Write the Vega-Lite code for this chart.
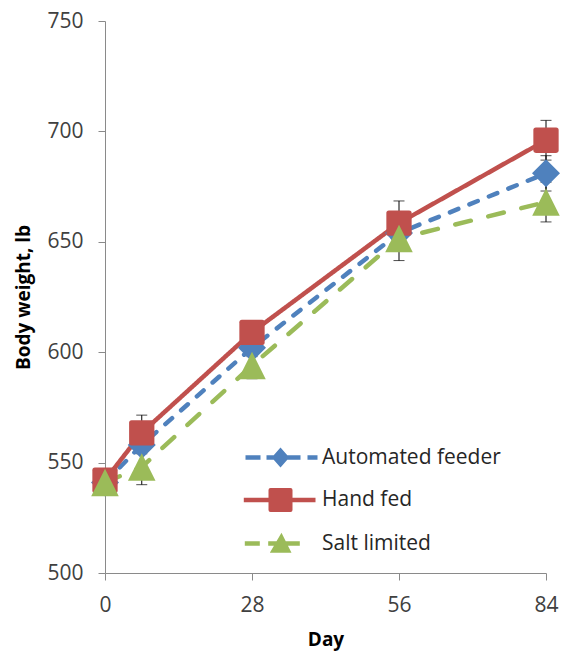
{
  "$schema": "https://vega.github.io/schema/vega-lite/v6.json",
  "autosize": {"type": "none"},
  "padding": {"left": 105, "top": 21, "right": 17, "bottom": 81},
  "width": 441,
  "height": 552,
  "background": "white",
  "config": {
    "view": {"stroke": null},
    "axis": {
      "grid": false,
      "labelFont": "Open Sans",
      "labelFontSize": 21,
      "labelColor": "#404040",
      "domainColor": "#8a8a8a",
      "tickColor": "#8a8a8a",
      "tickSize": 7,
      "labelFlush": false,
      "labelOverlap": false,
      "titleFont": "Open Sans",
      "titleFontWeight": "bold",
      "titleColor": "#000000"
    },
    "legend": {
      "labelFont": "Open Sans",
      "labelFontSize": 21,
      "labelColor": "#262626",
      "labelLimit": 400,
      "padding": 0
    }
  },
  "data": {
    "values": [
      {"series": "Automated feeder", "day": 0, "bw": 541, "lo": 539, "hi": 543},
      {"series": "Automated feeder", "day": 7, "bw": 558, "lo": 554, "hi": 562},
      {"series": "Automated feeder", "day": 28, "bw": 602, "lo": 598, "hi": 606},
      {"series": "Automated feeder", "day": 56, "bw": 654, "lo": 646, "hi": 662},
      {"series": "Automated feeder", "day": 84, "bw": 681, "lo": 673, "hi": 689},
      {"series": "Hand fed", "day": 0, "bw": 542, "lo": 540, "hi": 544},
      {"series": "Hand fed", "day": 7, "bw": 563.5, "lo": 555.5, "hi": 571.5},
      {"series": "Hand fed", "day": 28, "bw": 609, "lo": 604, "hi": 614},
      {"series": "Hand fed", "day": 56, "bw": 658.5, "lo": 648.5, "hi": 668.5},
      {"series": "Hand fed", "day": 84, "bw": 696, "lo": 687, "hi": 705},
      {"series": "Salt limited", "day": 0, "bw": 541, "lo": 539, "hi": 543},
      {"series": "Salt limited", "day": 7, "bw": 548, "lo": 540, "hi": 556},
      {"series": "Salt limited", "day": 28, "bw": 594, "lo": 588, "hi": 600},
      {"series": "Salt limited", "day": 56, "bw": 651.5, "lo": 641.5, "hi": 661.5},
      {"series": "Salt limited", "day": 84, "bw": 668, "lo": 659, "hi": 677}
    ]
  },
  "encoding": {
    "x": {
      "field": "day", "type": "quantitative",
      "scale": {"domain": [0, 84], "nice": false, "zero": false},
      "axis": {
        "values": [0, 28, 56, 84],
        "labelPadding": 14,
        "title": "Day",
        "titleFontSize": 19,
        "titleX": 220.5,
        "titleY": 72,
        "titleBaseline": "alphabetic",
        "titleAlign": "center"
      }
    },
    "y": {
      "field": "bw", "type": "quantitative",
      "scale": {"domain": [500, 750], "nice": false, "zero": false},
      "axis": {
        "values": [500, 550, 600, 650, 700, 750],
        "labelPadding": 15,
        "title": "Body weight, lb",
        "titleFontSize": 19,
        "titleAngle": 270,
        "titleX": -76,
        "titleY": 276,
        "titleBaseline": "alphabetic",
        "titleAlign": "center"
      }
    }
  },
  "layer": [
    {
      "mark": {"type": "line", "strokeWidth": 4.5, "strokeCap": "round"},
      "encoding": {
        "color": {
          "field": "series", "type": "nominal",
          "scale": {"domain": ["Automated feeder", "Hand fed", "Salt limited"], "range": ["#4F81BD", "#C0504D", "#9BBB59"]},
          "legend": {
            "title": null,
            "orient": "none",
            "legendX": 165,
            "legendY": 426,
            "symbolSize": 400,
            "symbolStrokeWidth": 0,
            "labelOffset": 31,
            "rowPadding": 19.5,
            "encode": {
              "symbols": {
                "update": {
                  "shape": {"signal": "datum.value === 'Automated feeder' ? 'M-3.5,-0.22H-2.0V0.22H-3.5Z M-1.4,-0.22H-0.68L0,-1L0.68,-0.22H2.0V0.22H0.68L0,1L-0.68,0.22H-1.4Z M2.7,-0.22H3.7V0.22H2.7Z' : datum.value === 'Hand fed' ? 'M-3.67,-0.22H-1.2V-1.0Q-1.2,-1.2 -1.0,-1.2H1.0Q1.2,-1.2 1.2,-1.0V-0.22H3.5V0.22H1.2V1.0Q1.2,1.2 1.0,1.2H-1.0Q-1.2,1.2 -1.2,1.0V0.22H-3.67Z' : 'M-3.57,-0.22H-2.07V0.22H-3.57Z M-1.23,-0.22H-0.4L0.1,-1.07L0.525,-0.22H1.93V0.22H0.745L1.1,0.93H-1.07L-0.655,0.22H-1.23Z'"},
                  "fill": {"signal": "datum.value === 'Automated feeder' ? '#4F81BD' : datum.value === 'Hand fed' ? '#C0504D' : '#9BBB59'"},
                  "fillOpacity": {"value": 1},
                  "opacity": {"value": 1},
                  "strokeWidth": {"value": 0},
                  "size": {"value": 400}
                }
              }
            }
          }
        },
        "strokeDash": {
          "field": "series", "type": "nominal",
          "scale": {"domain": ["Automated feeder", "Hand fed", "Salt limited"], "range": [[9, 12], [1, 0], [16, 18]]},
          "legend": null
        }
      }
    },
    {
      "mark": {"type": "errorbar", "ticks": true, "color": "black", "thickness": 1, "size": 11},
      "encoding": {
        "y": {"field": "lo", "type": "quantitative"},
        "y2": {"field": "hi"}
      }
    },
    {
      "transform": [{"filter": "datum.series === 'Automated feeder'"}],
      "mark": {"type": "point", "filled": true, "opacity": 1, "strokeWidth": 0, "shape": "diamond", "size": 784},
      "encoding": {"color": {"field": "series", "type": "nominal"}}
    },
    {
      "transform": [{"filter": "datum.series === 'Hand fed'"}],
      "mark": {"type": "point", "filled": true, "opacity": 1, "strokeWidth": 0, "shape": "M-1,-0.8Q-1,-1 -0.8,-1H0.8Q1,-1 1,-0.8V0.8Q1,1 0.8,1H-0.8Q-1,1 -1,0.8Z", "size": 640},
      "encoding": {"color": {"field": "series", "type": "nominal"}}
    },
    {
      "transform": [{"filter": "datum.series === 'Salt limited'"}],
      "mark": {"type": "point", "filled": true, "opacity": 1, "strokeWidth": 0, "shape": "M0,-1L1,1H-1Z", "size": 760},
      "encoding": {"color": {"field": "series", "type": "nominal"}}
    }
  ]
}
